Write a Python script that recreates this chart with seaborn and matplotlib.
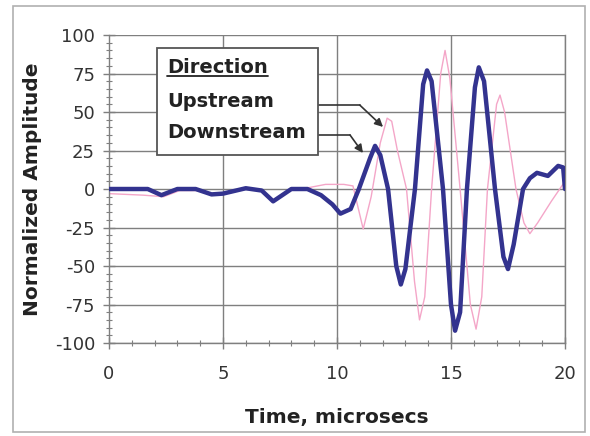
import numpy as np
import pandas as pd
import matplotlib
matplotlib.use("Agg")
import matplotlib.pyplot as plt
from matplotlib.patches import Rectangle
from matplotlib.ticker import MultipleLocator
import seaborn as sns

# ---- data ----
down_t = [0, 1.7, 2.3, 3.0, 3.8, 4.5, 5.0, 6.0, 6.7, 7.2, 8.0, 8.7, 9.3, 9.8, 10.15,
          10.6, 10.96, 11.45, 11.67, 11.9, 12.24, 12.6, 12.8, 13.0, 13.42, 13.78, 13.95,
          14.15, 14.65, 15.0, 15.18, 15.4, 15.7, 16.05, 16.22, 16.45, 16.93, 17.3, 17.5,
          17.75, 18.16, 18.46, 18.77, 19.25, 19.7, 19.92, 20.0]
down_v = [0, 0, -4, 0, 0, -3.5, -3, 0.5, -1, -8, 0, 0, -4, -10, -16,
          -13, 0, 20, 28, 22, 0, -50, -62, -52, 0, 68, 77,
          70, 0, -75, -92, -80, 0, 66, 79, 70, 0, -44, -52,
          -36, 0, 7, 10.5, 8.5, 15, 14, 0]

up_t = [0, 1.5, 2.4, 3.1, 4.0, 4.6, 5.1, 6.0, 6.7, 7.2, 8.0, 8.8, 9.5, 10.3, 10.7,
        11.15, 11.5, 11.9, 12.2, 12.4, 12.65, 13.05, 13.4, 13.62, 13.85, 14.15, 14.55,
        14.74, 14.95, 15.4, 15.85, 16.1, 16.35, 16.6, 17.0, 17.15, 17.35, 17.85, 18.2,
        18.46, 18.8, 19.4, 20.0]
up_v = [-3, -4, -5, -1, -1, -4, -3, 0, -1, -7, 0, 1, 3, 3, 2,
        -26, -5, 30, 46, 44, 25, 0, -60, -85, -70, 0, 75,
        90, 72, 0, -75, -91, -70, 0, 55, 61, 50, 0, -22,
        -29, -22, -8, 5]

x_ticks = [0, 5, 10, 15, 20]
y_ticks = [-100, -75, -50, -25, 0, 25, 50, 75, 100]
legend_title = "Direction"
series_names = ["Upstream", "Downstream"]

df = pd.concat([
    pd.DataFrame({"t": up_t, "v": up_v, "dir": "Upstream"}),
    pd.DataFrame({"t": down_t, "v": down_v, "dir": "Downstream"}),
])

sns.set_style("white")
plt.rcParams["font.family"] = ["DejaVu Sans"]
plt.rcParams["axes.unicode_minus"] = False

fig = plt.figure(figsize=(5.9, 4.36), dpi=100)
ax = fig.add_axes([0.1847, 0.2133, 0.9576 - 0.1847, 0.9197 - 0.2133])

# outer chart border
fig.patches.append(Rectangle((13 / 590, 4 / 436), (585 - 13) / 590, (430 - 4) / 436,
                             transform=fig.transFigure, fill=False,
                             edgecolor="#b0b0b0", lw=1.2))

grid_c = "#7f7f7f"
for yv in y_ticks:
    ax.axhline(yv, color=grid_c, lw=1.0, zorder=0)
for xv in x_ticks[1:]:
    ax.axvline(xv, color=grid_c, lw=1.0, zorder=0)

sns.lineplot(data=df[df["dir"] == "Upstream"], x="t", y="v", color="#f4a6c8",
             lw=1.0, ax=ax, sort=False, zorder=2)
sns.lineplot(data=df[df["dir"] == "Downstream"], x="t", y="v", color="#33338f",
             lw=3.2, ax=ax, sort=False, zorder=3)

ax.set_xlim(0, 20)
ax.set_ylim(-100, 100)
ax.set_xticks(x_ticks)
ax.set_yticks(y_ticks)
ax.xaxis.set_minor_locator(MultipleLocator(1))
ax.yaxis.set_minor_locator(MultipleLocator(5))
ax.tick_params(axis="both", which="both", left=True, bottom=True)
ax.tick_params(axis="both", which="major", direction="inout", length=8, width=1,
               color=grid_c, labelsize=13, labelcolor="#333333")
ax.tick_params(axis="both", which="minor", direction="inout", length=5, width=0.8,
               color=grid_c)
ax.tick_params(axis="x", which="major", pad=12)
ax.tick_params(axis="y", which="major", pad=6)
for s in ax.spines.values():
    s.set_color(grid_c)
    s.set_linewidth(1.0)
ax.spines["top"].set_visible(False)

ax.set_xlabel("Time, microsecs", fontsize=14.5, fontweight="bold", color="#222222")
ax.set_ylabel("Normalized Amplitude", fontsize=14.5, fontweight="bold", color="#222222")
ax.xaxis.set_label_coords(0.5, -0.212)
ax.yaxis.set_label_coords(-0.147, 0.5)

# legend box (as in the original: a text box with arrows)
ax.add_patch(Rectangle((2.1, 22.1), 9.17 - 2.1, 91.6 - 22.1, facecolor="white",
                       edgecolor="#555555", lw=1.3, zorder=5))
tk = dict(fontsize=14, fontweight="bold", color="#222222", va="center", ha="left", zorder=6)
t_title = ax.text(2.54, 79.2, legend_title, **tk)
ax.text(2.54, 56.5, series_names[0], **tk)
ax.text(2.54, 36.4, series_names[1], **tk)

fig.canvas.draw()
bb = t_title.get_window_extent().transformed(ax.transData.inverted())
ax.plot([bb.x0, bb.x1], [bb.y0 + 0.5, bb.y0 + 0.5], color="#222222", lw=1.3, zorder=6)

arrow_c = "#333333"
ax.plot([9.17, 11.0], [54.5, 54.5], color=arrow_c, lw=1.2, zorder=4)
ax.annotate("", xy=(12.02, 40.3), xytext=(11.0, 54.5),
            arrowprops=dict(arrowstyle="-|>", color=arrow_c, lw=1.2,
                            mutation_scale=12, shrinkA=0, shrinkB=0), zorder=4)
ax.plot([9.17, 10.57], [35.1, 35.1], color=arrow_c, lw=1.2, zorder=4)
ax.annotate("", xy=(11.14, 23.4), xytext=(10.57, 35.1),
            arrowprops=dict(arrowstyle="-|>", color=arrow_c, lw=1.2,
                            mutation_scale=12, shrinkA=0, shrinkB=0), zorder=4)

fig.savefig("out.png", dpi=100)
